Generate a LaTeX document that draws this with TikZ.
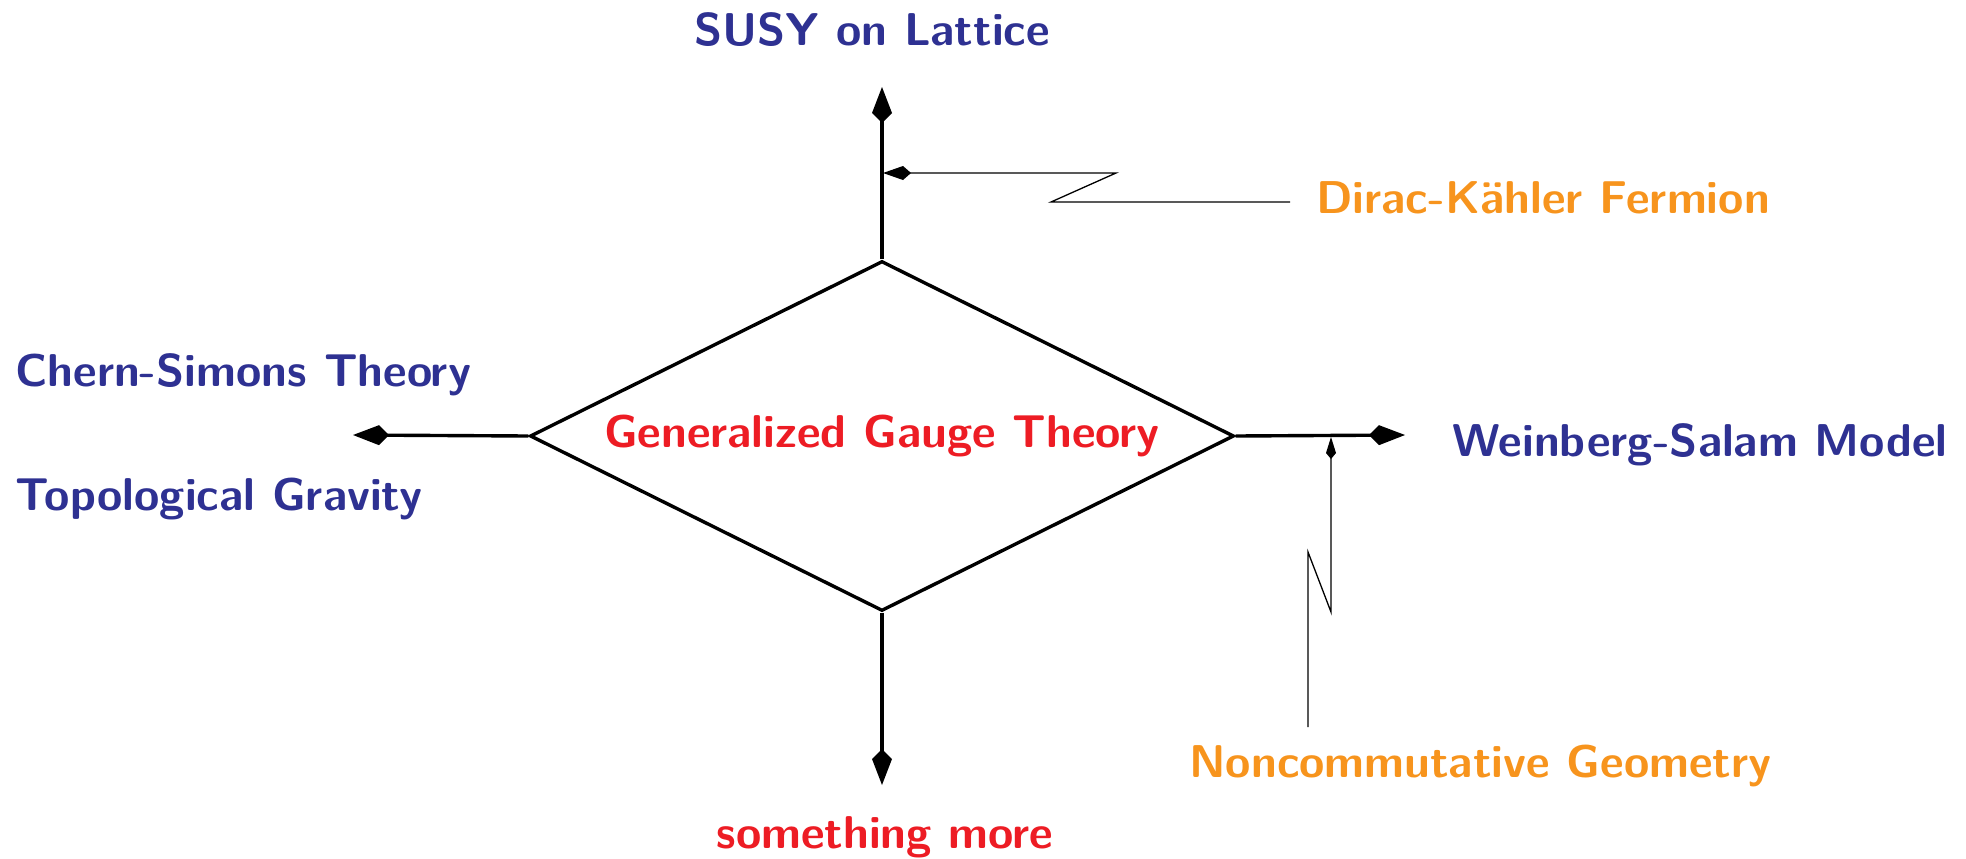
\documentclass[tikz,border=0pt]{standalone}
\usepackage{fontspec}
\usetikzlibrary{arrows.meta,shapes.geometric}
\definecolor{cblue}{RGB}{46,49,146}
\definecolor{corange}{RGB}{247,148,29}
\definecolor{cred}{RGB}{237,28,36}
\begin{document}
\begin{tikzpicture}[x={(0.5pt,0)}, y={(0,-0.5pt)},
  lbl/.style={font=\fontsize{23}{27}\selectfont\sffamily\bfseries, inner sep=0pt},
  mainarrow/.style={line width=1.7pt, -{Kite[length=18pt,width=10pt,inset=5pt]}},
  thinarrow/.style={line width=0.65pt, -{Kite[length=14pt,width=7pt,inset=4pt]}},
  smallarrow/.style={line width=0.65pt, -{Kite[length=11pt,width=5pt,inset=3pt]}},
  box/.style={draw, diamond, aspect=2, line width=1.7pt, inner sep=0pt,
    minimum width=352pt, minimum height=175pt}]
\useasboundingbox (0,0) rectangle (1966,858);
% central diamond
\node[box, lbl, text=cred] (ggt) at (882,436) {Generalized Gauge Theory};
% labels
\node[lbl, text=cblue, anchor=base] (susy) at (872,45) {SUSY on Lattice};
\node[lbl, text=corange, anchor=base west] (dk) at (1316,213) {Dirac-Kähler Fermion};
\node[lbl, text=cblue, anchor=base west] (cs) at (15,386) {Chern-Simons Theory};
\node[lbl, text=cblue, anchor=base west] (tg) at (15,510) {Topological Gravity};
\node[lbl, text=cblue, anchor=base west] (ws) at (1452,456) {Weinberg-Salam Model};
\node[lbl, text=corange, anchor=base west] (ncg) at (1189,777) {Noncommutative Geometry};
\node[lbl, text=cred, anchor=base] (sm) at (885,848) {something more};
% arrow tips
\coordinate (uptip) at (882,87);
\coordinate (lefttip) at (353,435);
\coordinate (righttip) at (1405,435);
\coordinate (downtip) at (882,785);
\draw[mainarrow] (ggt.north) -- (uptip);
\draw[mainarrow] (ggt.west) -- (lefttip);
\draw[mainarrow] (ggt.east) -- (righttip);
\draw[mainarrow] (ggt.south) -- (downtip);
% Dirac-Kaehler connector
\coordinate (dkstart) at (1290,202);
\coordinate (dkz1) at (1051,202);
\coordinate (dkz2) at (1116,173);
\coordinate (dktip) at (883,173);
\draw[thinarrow] (dkstart) -- (dkz1) -- (dkz2) -- (dktip);
% Noncommutative connector
\coordinate (ncstart) at (1308,727);
\coordinate (ncz1) at (1308,552);
\coordinate (ncz2) at (1331,612);
\coordinate (nctip) at (1331,437);
\draw[smallarrow] (ncstart) -- (ncz1) -- (ncz2) -- (nctip);
\end{tikzpicture}
\end{document}
